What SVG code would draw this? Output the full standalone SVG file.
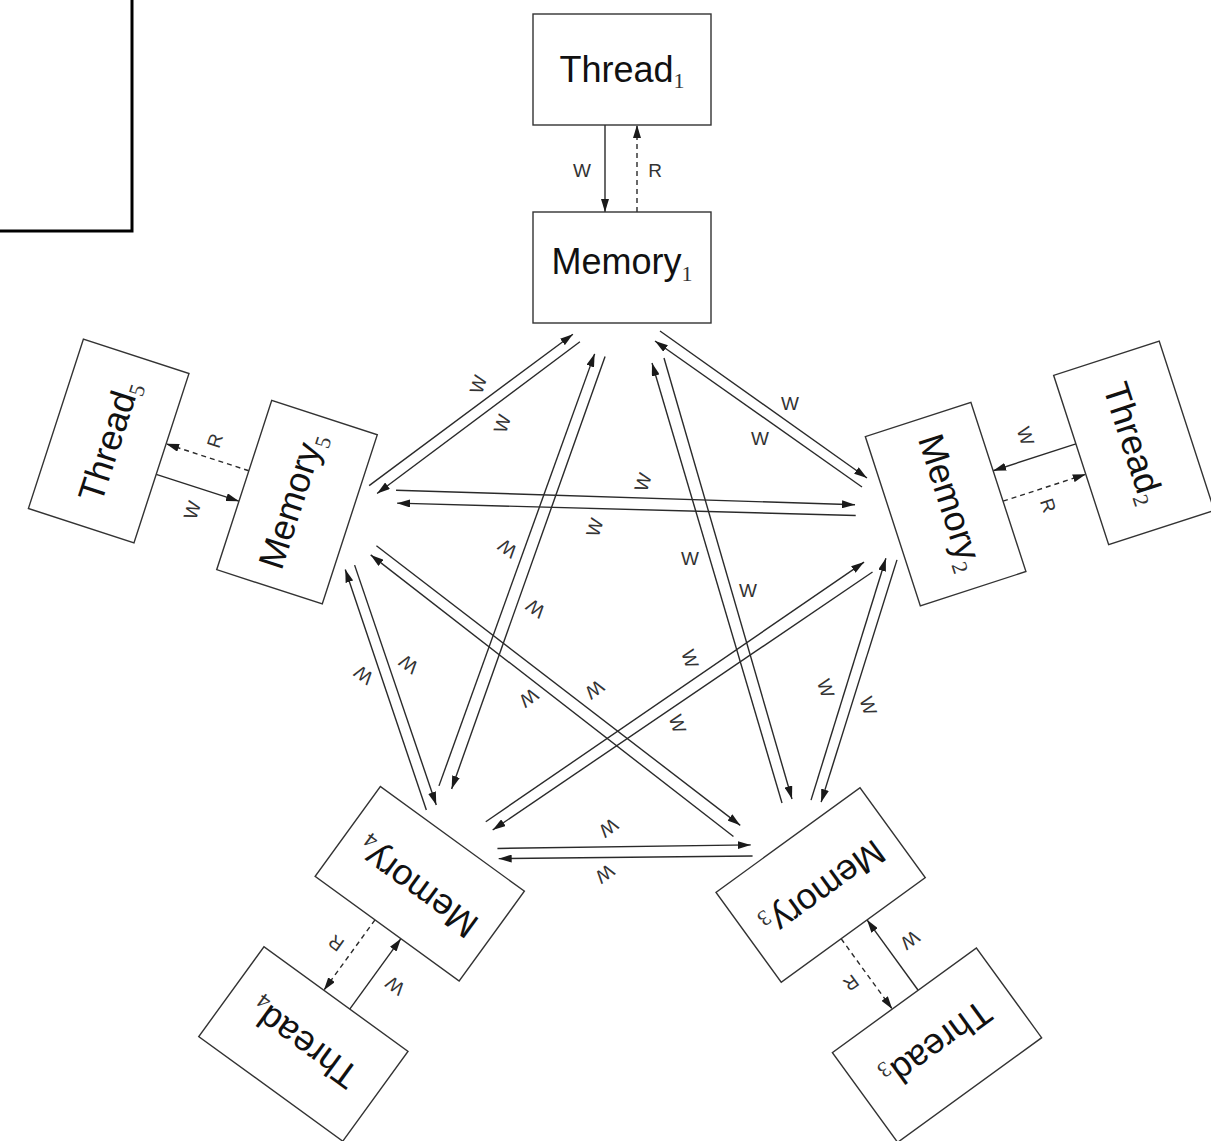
<svg xmlns="http://www.w3.org/2000/svg" width="1211" height="1141" viewBox="0 0 1211 1141">
<style>
.box{fill:#fff;stroke:#333;stroke-width:1.4}
.lbl{font-family:"Liberation Sans",Arial,sans-serif;font-size:36px;fill:#111;text-anchor:middle}
.sub{font-family:"Liberation Serif","Times New Roman",serif;font-size:22px;fill:#333}
.w{stroke:#2a2a2a;stroke-width:1.4;fill:none}
.r{stroke:#2a2a2a;stroke-width:1.4;fill:none;stroke-dasharray:5,4}
.el{font-family:"Liberation Sans",Arial,sans-serif;font-size:19px;fill:#333;text-anchor:middle}
</style>
<defs>
<marker id="ah" markerUnits="userSpaceOnUse" markerWidth="14" markerHeight="8" refX="13" refY="4" orient="auto">
<path d="M0,0 L13,4 L0,8 z" fill="#1a1a1a"/>
</marker>
</defs>
<rect width="1211" height="1141" fill="#fff"/>
<rect x="-10" y="-10" width="142" height="241" fill="none" stroke="#000" stroke-width="3"/>

<g id="connectors">
<g transform="rotate(0 621 608.5)">
<line class="w" x1="605" y1="125" x2="605" y2="212" marker-end="url(#ah)"/>
<line class="r" x1="637" y1="212" x2="637" y2="125" marker-end="url(#ah)"/>
<line class="w" x1="660" y1="331" x2="867" y2="478" marker-end="url(#ah)"/>
<line class="w" x1="862" y1="487" x2="655" y2="341" marker-end="url(#ah)"/>
<line class="w" x1="664" y1="358" x2="792" y2="799" marker-end="url(#ah)"/>
<line class="w" x1="782" y1="803" x2="652" y2="363" marker-end="url(#ah)"/>
<text class="el" x="582" y="177">W</text>
<text class="el" x="655" y="177">R</text>
<text class="el" x="790" y="410">W</text>
<text class="el" x="760" y="445">W</text>
<text class="el" x="690" y="565">W</text>
<text class="el" x="748" y="597">W</text>
</g>
<g transform="rotate(72 621 608.5)">
<line class="w" x1="605" y1="125" x2="605" y2="212" marker-end="url(#ah)"/>
<line class="r" x1="637" y1="212" x2="637" y2="125" marker-end="url(#ah)"/>
<line class="w" x1="660" y1="331" x2="867" y2="478" marker-end="url(#ah)"/>
<line class="w" x1="862" y1="487" x2="655" y2="341" marker-end="url(#ah)"/>
<line class="w" x1="664" y1="358" x2="792" y2="799" marker-end="url(#ah)"/>
<line class="w" x1="782" y1="803" x2="652" y2="363" marker-end="url(#ah)"/>
<text class="el" x="582" y="177">W</text>
<text class="el" x="655" y="177">R</text>
<text class="el" x="790" y="410">W</text>
<text class="el" x="760" y="445">W</text>
<text class="el" x="690" y="565">W</text>
<text class="el" x="748" y="597">W</text>
</g>
<g transform="rotate(144 621 608.5)">
<line class="w" x1="605" y1="125" x2="605" y2="212" marker-end="url(#ah)"/>
<line class="r" x1="637" y1="212" x2="637" y2="125" marker-end="url(#ah)"/>
<line class="w" x1="660" y1="331" x2="867" y2="478" marker-end="url(#ah)"/>
<line class="w" x1="862" y1="487" x2="655" y2="341" marker-end="url(#ah)"/>
<line class="w" x1="664" y1="358" x2="792" y2="799" marker-end="url(#ah)"/>
<line class="w" x1="782" y1="803" x2="652" y2="363" marker-end="url(#ah)"/>
<text class="el" x="582" y="177">W</text>
<text class="el" x="655" y="177">R</text>
<text class="el" x="790" y="410">W</text>
<text class="el" x="760" y="445">W</text>
<text class="el" x="690" y="565">W</text>
<text class="el" x="748" y="597">W</text>
</g>
<g transform="rotate(216 621 608.5)">
<line class="w" x1="605" y1="125" x2="605" y2="212" marker-end="url(#ah)"/>
<line class="r" x1="637" y1="212" x2="637" y2="125" marker-end="url(#ah)"/>
<line class="w" x1="660" y1="331" x2="867" y2="478" marker-end="url(#ah)"/>
<line class="w" x1="862" y1="487" x2="655" y2="341" marker-end="url(#ah)"/>
<line class="w" x1="664" y1="358" x2="792" y2="799" marker-end="url(#ah)"/>
<line class="w" x1="782" y1="803" x2="652" y2="363" marker-end="url(#ah)"/>
<text class="el" x="582" y="177">W</text>
<text class="el" x="655" y="177">R</text>
<text class="el" x="790" y="410">W</text>
<text class="el" x="760" y="445">W</text>
<text class="el" x="690" y="565">W</text>
<text class="el" x="748" y="597">W</text>
</g>
<g transform="rotate(288 621 608.5)">
<line class="w" x1="605" y1="125" x2="605" y2="212" marker-end="url(#ah)"/>
<line class="r" x1="637" y1="212" x2="637" y2="125" marker-end="url(#ah)"/>
<line class="w" x1="660" y1="331" x2="867" y2="478" marker-end="url(#ah)"/>
<line class="w" x1="862" y1="487" x2="655" y2="341" marker-end="url(#ah)"/>
<line class="w" x1="664" y1="358" x2="792" y2="799" marker-end="url(#ah)"/>
<line class="w" x1="782" y1="803" x2="652" y2="363" marker-end="url(#ah)"/>
<text class="el" x="582" y="177">W</text>
<text class="el" x="655" y="177">R</text>
<text class="el" x="790" y="410">W</text>
<text class="el" x="760" y="445">W</text>
<text class="el" x="690" y="565">W</text>
<text class="el" x="748" y="597">W</text>
</g>
</g>

<g id="thread1" transform="rotate(0 621 608.5)"><rect class="box" x="533" y="14" width="178" height="111"/><text class="lbl" x="622" y="82">Thread<tspan class="sub" dy="6">1</tspan></text></g>
<g id="memory1" transform="rotate(0 621 608.5)"><rect class="box" x="533" y="212" width="178" height="111"/><text class="lbl" x="622" y="274">Memory<tspan class="sub" dy="7">1</tspan></text></g>
<g id="thread2" transform="rotate(72 621 608.5)"><rect class="box" x="533" y="14" width="178" height="111"/><text class="lbl" x="622" y="82">Thread<tspan class="sub" dy="6">2</tspan></text></g>
<g id="memory2" transform="rotate(72 621 608.5)"><rect class="box" x="533" y="212" width="178" height="111"/><text class="lbl" x="622" y="274">Memory<tspan class="sub" dy="7">2</tspan></text></g>
<g id="thread3" transform="rotate(144 621 608.5)"><rect class="box" x="533" y="14" width="178" height="111"/><text class="lbl" x="622" y="82">Thread<tspan class="sub" dy="6">3</tspan></text></g>
<g id="memory3" transform="rotate(144 621 608.5)"><rect class="box" x="533" y="212" width="178" height="111"/><text class="lbl" x="622" y="274">Memory<tspan class="sub" dy="7">3</tspan></text></g>
<g id="thread4" transform="rotate(216 621 608.5)"><rect class="box" x="533" y="14" width="178" height="111"/><text class="lbl" x="622" y="82">Thread<tspan class="sub" dy="6">4</tspan></text></g>
<g id="memory4" transform="rotate(216 621 608.5)"><rect class="box" x="533" y="212" width="178" height="111"/><text class="lbl" x="622" y="274">Memory<tspan class="sub" dy="7">4</tspan></text></g>
<g id="thread5" transform="rotate(288 621 608.5)"><rect class="box" x="533" y="14" width="178" height="111"/><text class="lbl" x="622" y="82">Thread<tspan class="sub" dy="6">5</tspan></text></g>
<g id="memory5" transform="rotate(288 621 608.5)"><rect class="box" x="533" y="212" width="178" height="111"/><text class="lbl" x="622" y="274">Memory<tspan class="sub" dy="7">5</tspan></text></g>
</svg>
